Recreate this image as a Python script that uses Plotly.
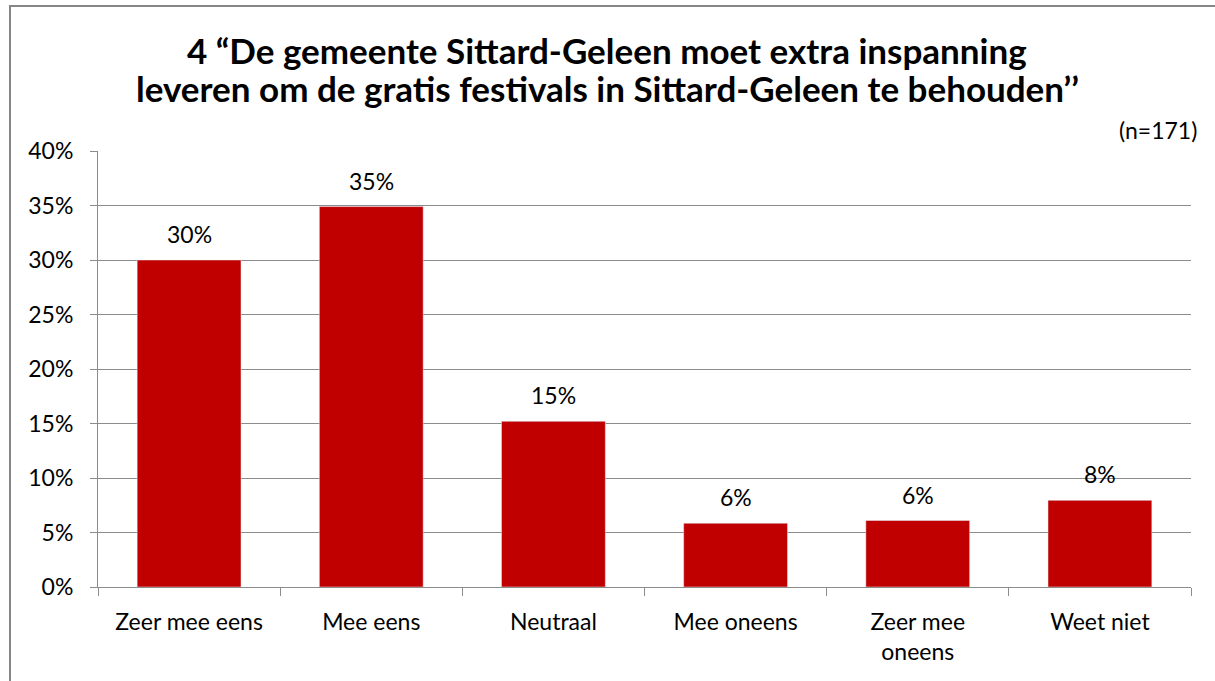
import plotly.graph_objects as go

# antwoordcategorieen en aandelen (fractie)
categories = ["Zeer mee eens", "Mee eens", "Neutraal", "Mee oneens", "Zeer mee<br>oneens", "Weet niet"]
shares = [0.300, 0.349, 0.152, 0.0585, 0.061, 0.0795]

title_lines = ["4 \u201cDe gemeente Sittard-Geleen moet extra inspanning",
               "leveren om de gratis festivals in Sittard-Geleen te behouden\u2019\u2019"]
n_label = "(n=171)"

FONT = "Lato, Carlito, Calibri, sans-serif"
GRID = "#8c8c8c"

fig = go.Figure()
fig.add_trace(go.Bar(
    x=categories, y=shares,
    marker_color="#C00000",
    width=0.57,
    hoverinfo="x+y",
))

# waardelabels boven de staven
annotations = []
for cat, val in zip(categories, shares):
    annotations.append(dict(x=cat, y=val, xref="x", yref="y", text=f"{val:.0%}",
                            showarrow=False, yanchor="middle", yshift=26,
                            font=dict(size=23, family=FONT, color="black")))

# titel in twee regels (paper-coördinaten, plotgebied 1093x436 px)
for i, line in enumerate(title_lines):
    annotations.append(dict(text=line, xref="paper", yref="paper",
                            x=0.4657, xanchor="center", y=1.2317 - 0.0872 * i, yanchor="middle",
                            showarrow=False,
                            font=dict(size=35, family=FONT, color="black", weight="bold")))

annotations.append(dict(text=n_label, xref="paper", yref="paper",
                        x=1.0075, y=1.048, xanchor="right", yanchor="middle",
                        showarrow=False, font=dict(size=23, family=FONT)))

fig.update_layout(
    width=1215, height=681,
    margin=dict(l=98, r=24, t=151, b=94),
    paper_bgcolor="white", plot_bgcolor="white",
    font=dict(family=FONT, color="black"),
    showlegend=False,
    annotations=annotations,
    shapes=[dict(type="rect", xref="paper", yref="paper",
                 x0=-0.0805, x1=1.03, y0=-0.3, y1=1.3326,
                 line=dict(color="#868686", width=2), layer="below")],
)

fig.update_yaxes(range=[0, 0.4], dtick=0.05, tickformat=".0%",
                 showgrid=True, gridcolor=GRID, gridwidth=1,
                 showline=True, linecolor=GRID, linewidth=1,
                 ticks="outside", ticklen=7, tickcolor=GRID,
                 ticklabelstandoff=12,
                 tickfont=dict(size=23, family=FONT), zeroline=False)
fig.update_xaxes(showline=True, linecolor=GRID, linewidth=1,
                 ticks="outside", ticklen=8, tickcolor=GRID,
                 tickson="boundaries", ticklabelstandoff=14,
                 tickfont=dict(size=23, family=FONT))

fig.write_html("out.html", config={"displayModeBar": False},
               post_script="document.body.style.margin='0px';")
